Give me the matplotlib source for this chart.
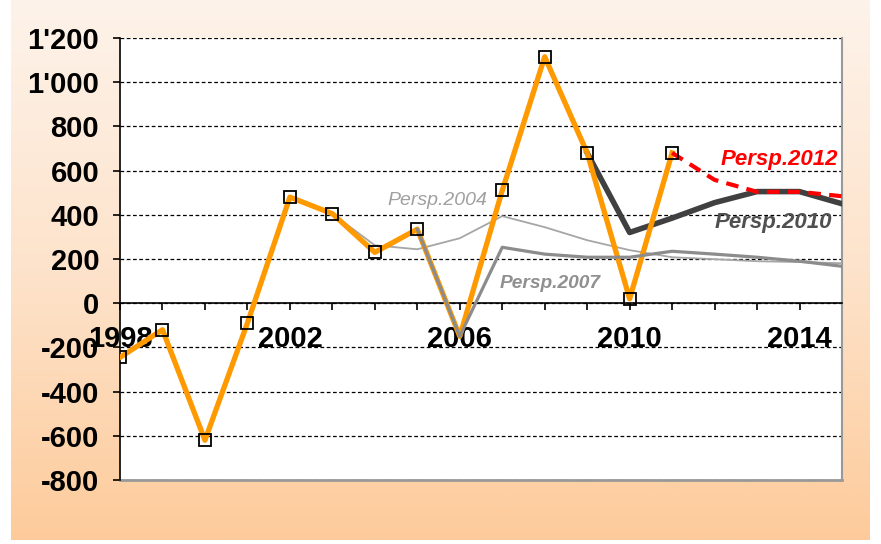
# -*- coding: utf-8 -*-
import numpy as np
import matplotlib
matplotlib.use('Agg')
import matplotlib.pyplot as plt
from matplotlib.colors import LinearSegmentedColormap
from matplotlib.ticker import MultipleLocator, FixedLocator, FuncFormatter

plt.rcParams['font.family'] = ['Liberation Sans', 'DejaVu Sans']

# Serie observee
annees = [1998, 1999, 2000, 2001, 2002, 2003, 2004, 2005, 2006, 2007, 2008, 2009, 2010, 2011]
valeurs = [-245, -120, -620, -90, 480, 405, 230, 335, -150, 510, 1115, 680, 20, 680]

# Perspectives
an_2004 = [2003, 2004, 2005, 2006, 2007, 2008, 2009, 2010, 2011, 2012, 2013, 2014, 2015]
p_2004 = [405, 262, 244, 294, 394, 344, 285, 240, 208, 199, 190, 186, 181]

an_2007 = [2005, 2006, 2007, 2008, 2009, 2010, 2011, 2012, 2013, 2014, 2015]
p_2007 = [335, -150, 253, 222, 208, 208, 235, 222, 208, 190, 167]

an_2010 = [2009, 2010, 2011, 2012, 2013, 2014, 2015]
p_2010 = [680, 320, 385, 455, 505, 505, 450]

an_2012 = [2011, 2012, 2013, 2014, 2015]
p_2012 = [680, 558, 504, 504, 484]

annees_ticks = [1998, 2002, 2006, 2010, 2014]

fig = plt.figure(figsize=(8.81, 5.44), dpi=100)

# fond degrade
bg = fig.add_axes([11/881, 4/544, 859/881, 540/544])
cmap = LinearSegmentedColormap.from_list('peche', ['#FEF3EA', '#FDE3CB', '#FDCB9B'])
grad = np.linspace(0, 1, 256).reshape(-1, 1)
bg.imshow(grad, aspect='auto', cmap=cmap, extent=[0, 1, 0, 1], origin='upper')
bg.set_axis_off()

ax = fig.add_axes([120/881, 1 - 480/544, 722/881, 442/544])
ax.set_facecolor('white')

ax.plot(an_2004, p_2004, color='#A6A6A6', lw=1.3, zorder=3)
ax.plot(an_2010, p_2010, color='#404040', lw=4, zorder=3)
ax.plot(annees, valeurs, color='#FF9900', lw=3.8, zorder=4,
        solid_joinstyle='round')
ax.plot(an_2007, p_2007, color='#8C8C8C', lw=2.3, zorder=4.5)
ax.plot(an_2012, p_2012, color='#FF0000', lw=3, ls=(0, (3, 2)), zorder=5)
# pas de marqueur visible en 2006
visibles = [i for i, a in enumerate(annees) if a != 2006]
ax.plot(annees, valeurs, ls='none', marker='s', ms=8.5, mfc='none',
        mec='black', mew=1.3, zorder=6, markevery=visibles)

ax.text(2004.3, 466, 'Persp.2004', color='#A0A0A0', fontsize=14,
        style='italic', va='center', zorder=7)
ax.text(2006.94, 88, 'Persp.2007', color='#909090', fontsize=13.8,
        style='italic', weight='bold', va='center', zorder=7)
ax.text(2012.0, 366, 'Persp.2010', color='#505050', fontsize=16,
        style='italic', weight='bold', va='center', zorder=7)
ax.text(2012.15, 648, 'Persp.2012', color='#FF0000', fontsize=16,
        style='italic', weight='bold', va='center', zorder=7)

ax.set_xlim(1998, 2015)
ax.set_ylim(-800, 1200)

ax.yaxis.set_major_locator(MultipleLocator(200))
ax.yaxis.set_major_formatter(FuncFormatter(
    lambda v, p: ('-' if v < 0 else '') + "{:,.0f}".format(abs(v)).replace(',', "'")))
ax.xaxis.set_major_locator(FixedLocator(annees_ticks))
ax.xaxis.set_minor_locator(MultipleLocator(1))

ax.grid(axis='y', color='black', ls=(0, (3, 2)), lw=0.9, zorder=1)
ax.set_axisbelow(True)

ax.spines['bottom'].set_position(('data', 0))
ax.spines['bottom'].set_linewidth(1.2)
ax.spines['left'].set_linewidth(1.2)
ax.spines['top'].set_visible(False)
ax.spines['right'].set_color('#999999')
ax.spines['right'].set_linewidth(1.5)
ax.axhline(-800, color='#999999', lw=2, zorder=2, clip_on=False)

ax.tick_params(axis='y', direction='out', length=5, width=1.2, pad=10,
               labelsize=21)
ax.tick_params(axis='x', which='both', direction='out', length=5, width=1.2,
               pad=11, labelsize=21)
for lab in ax.get_xticklabels() + ax.get_yticklabels():
    lab.set_fontweight('bold')

plt.savefig('out.png', dpi=100, facecolor='white')
